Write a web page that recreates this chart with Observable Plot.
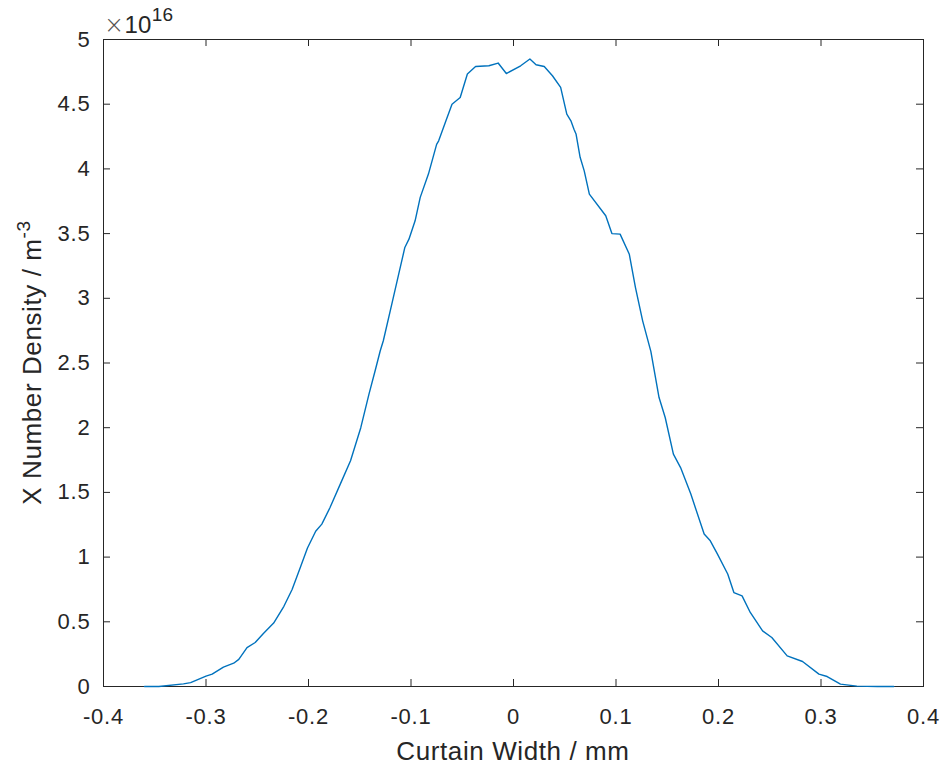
<!DOCTYPE html>
<html><head><meta charset="utf-8">
<script src="https://cdn.jsdelivr.net/npm/d3@7"></script>
<script src="https://cdn.jsdelivr.net/npm/@observablehq/plot@0.6"></script>
<style>body{margin:0;background:#fff;} #chart{width:944px;height:767px;}</style>
</head><body><div id="chart"></div>
<script>
// Curtain width (mm)
const widthMm = [-0.360,-0.346,-0.322,-0.315,-0.300,-0.294,-0.283,-0.273,-0.268,-0.260,-0.252,-0.244,-0.234,-0.224,-0.216,-0.208,-0.201,-0.193,-0.187,-0.179,-0.169,-0.159,-0.149,-0.141,-0.135,-0.130,-0.127,-0.118,-0.112,-0.106,-0.102,-0.096,-0.091,-0.083,-0.075,-0.073,-0.066,-0.060,-0.052,-0.045,-0.037,-0.024,-0.015,-0.007,0.007,0.016,0.022,0.030,0.038,0.046,0.052,0.056,0.059,0.061,0.065,0.069,0.074,0.090,0.096,0.104,0.113,0.119,0.126,0.134,0.142,0.148,0.156,0.163,0.173,0.186,0.192,0.199,0.209,0.215,0.223,0.231,0.243,0.252,0.267,0.282,0.298,0.306,0.319,0.335,0.355,0.371];
// X number density (x 10^16 m^-3)
const density = [0,0,0.02,0.03,0.08,0.095,0.15,0.18,0.21,0.30,0.34,0.41,0.49,0.62,0.75,0.92,1.07,1.20,1.255,1.383,1.564,1.744,2.00,2.26,2.44,2.595,2.672,2.98,3.187,3.393,3.457,3.599,3.78,3.96,4.19,4.217,4.37,4.50,4.552,4.733,4.791,4.797,4.818,4.737,4.797,4.849,4.805,4.791,4.72,4.63,4.424,4.372,4.307,4.27,4.09,3.985,3.805,3.638,3.50,3.496,3.34,3.083,2.826,2.59,2.233,2.079,1.796,1.692,1.487,1.178,1.126,1.023,0.869,0.726,0.70,0.572,0.43,0.379,0.237,0.193,0.096,0.077,0.018,0.003,0,0];
const xTicks = [-0.4,-0.3,-0.2,-0.1,0,0.1,0.2,0.3,0.4];
const yTicks = [0,0.5,1,1.5,2,2.5,3,3.5,4,4.5,5];
const xLabel = "Curtain Width / mm";
const yLabel = "X Number Density / m";
const yLabelSup = "-3";
const expBase = "\u00d710";
const expSup = "16";

const W = 944, H = 767, mL = 103, mR = 21, mT = 39, mB = 81;
const plotW = W - mL - mR, plotH = H - mT - mB;
const tickLen = 7;
const axisColor = "#262626";
const font = "'Liberation Sans', Arial, Helvetica, sans-serif";
const data = widthMm.map((x, i) => ({x, y: density[i]}));

const chart = Plot.plot({
  width: W, height: H,
  marginLeft: mL, marginRight: mR, marginTop: mT, marginBottom: mB,
  style: {fontFamily: font, fontSize: "22px", letterSpacing: "0.8px", color: axisColor, background: "#fff", overflow: "visible"},
  x: {domain: [-0.4, 0.4]},
  y: {domain: [0, 5]},
  marks: [
    Plot.frame({stroke: axisColor, strokeWidth: 1}),
    Plot.tickX(xTicks, {x: d => d, insetTop: plotH - tickLen, stroke: axisColor}),
    Plot.tickX(xTicks, {x: d => d, insetBottom: plotH - tickLen, stroke: axisColor}),
    Plot.tickY(yTicks, {y: d => d, insetRight: plotW - tickLen, stroke: axisColor}),
    Plot.tickY(yTicks, {y: d => d, insetLeft: plotW - tickLen, stroke: axisColor}),
    Plot.axisX(xTicks, {anchor: "bottom", tickSize: 0, tickPadding: 22, tickFormat: d => String(d), label: null, fill: axisColor}),
    Plot.axisY(yTicks, {anchor: "left", tickSize: 0, tickPadding: 13, tickFormat: d => String(d), label: null, fill: axisColor}),
    Plot.line(data, {x: "x", y: "y", stroke: "#0072BD", strokeWidth: 1.4})
  ]
});
document.getElementById("chart").appendChild(chart);

const svg = d3.select(chart);
svg.append("text")
  .attr("x", mL + plotW / 2).attr("y", 760)
  .attr("text-anchor", "middle")
  .attr("font-family", font).attr("font-size", 26).attr("letter-spacing", "0.6px").attr("fill", axisColor)
  .text(xLabel);

const yl = svg.append("text")
  .attr("transform", `translate(41,${mT + plotH / 2}) rotate(-90)`)
  .attr("text-anchor", "middle")
  .attr("font-family", font).attr("font-size", 26).attr("letter-spacing", "0.6px").attr("fill", axisColor);
yl.append("tspan").text(yLabel);
yl.append("tspan").attr("dy", -11).attr("font-size", 19).text(yLabelSup);

const ex = svg.append("text")
  .attr("x", mL + 1).attr("y", 33)
  .attr("text-anchor", "start")
  .attr("font-family", font).attr("font-size", 24).attr("letter-spacing", "0.3px").attr("fill", axisColor);
ex.append("tspan").attr("fill", "#555").attr("font-family", "'DejaVu Sans', sans-serif").attr("font-weight", 300).text(expBase.slice(0, 1));
ex.append("tspan").text(expBase.slice(1));
ex.append("tspan").attr("dy", -12).attr("font-size", 19).text(expSup);
</script>
</body></html>
